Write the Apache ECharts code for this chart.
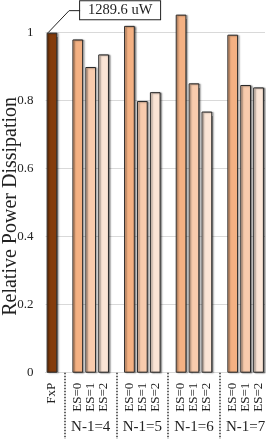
<!DOCTYPE html>
<html>
<head>
<meta charset="utf-8">
<script src="https://cdn.jsdelivr.net/npm/echarts@6/dist/echarts.min.js"></script>
<style>
html,body{margin:0;padding:0;background:#fff;}
#chart{width:266px;height:439px;}
</style>
</head>
<body>
<div id="chart"></div>
<script>
// ---- data ----
var groupLabels = ['N-1=4', 'N-1=5', 'N-1=6', 'N-1=7'];
var esLabels = ['ES=0', 'ES=1', 'ES=2'];
var fxpLabel = 'FxP';
var fxpValue = 1.0;
var fxpAnnotation = '1289.6 uW';
var es0 = [0.980, 1.020, 1.053, 0.994];
var es1 = [0.899, 0.799, 0.851, 0.846];
var es2 = [0.936, 0.825, 0.768, 0.839];
var yTicks = [0, 0.2, 0.4, 0.6, 0.8, 1];

var fxpColor = '#843C0C';
var esColors = ['#F4B183', '#F8CBAD', '#FBE5D6'];
var FONT = 'Liberation Serif';
var BAR_FRAC = 0.83;
var ANN_FONT = 14.5;
var ANN_BOX_W = 80;

// measure annotation text to size its box
var mctx = document.createElement('canvas').getContext('2d');
mctx.font = ANN_FONT + 'px "' + FONT + '"';
var annTextW = mctx.measureText(fxpAnnotation).width;
var annPadH = Math.max(4, (ANN_BOX_W - annTextW) / 2);

// build category slots
var cats = [fxpLabel, ''];
var vals = [{value: fxpValue, itemStyle: {color: fxpColor},
  label: {show: true, formatter: fxpAnnotation}}];
vals.push('-');
var groupCats = ['', ''];
var sepIdx = [1];
var series = [es0, es1, es2];
groupLabels.forEach(function (g, gi) {
  esLabels.forEach(function (e, ei) {
    cats.push(e);
    vals.push({value: series[ei][gi], itemStyle: {color: esColors[ei]}});
    groupCats.push(ei === 1 ? g : '');
  });
  if (gi < groupLabels.length - 1) {
    cats.push('');
    vals.push('-');
    groupCats.push('');
    sepIdx.push(cats.length - 1);
  }
});

var chart = echarts.init(document.getElementById('chart'), null, {renderer: 'canvas'});
chart.setOption({
  animation: false,
  textStyle: {fontFamily: FONT},
  grid: {left: 45.5, right: 1, top: 0, bottom: 66.3, containLabel: false, outerBoundsMode: 'none'},
  xAxis: [{
    type: 'category',
    data: cats,
    axisLine: {show: true, lineStyle: {color: '#d9d9d9'}},
    axisTick: {show: false},
    axisLabel: {interval: 0, rotate: 90, margin: 10, fontSize: 13, color: '#222', fontFamily: FONT}
  }, {
    type: 'category',
    data: groupCats,
    position: 'bottom',
    axisLine: {show: false},
    axisTick: {show: true, alignWithLabel: true, length: 67,
      interval: function (i) { return sepIdx.indexOf(i) >= 0; },
      lineStyle: {type: [1.5, 1.5], color: '#333', width: 1.5}},
    axisLabel: {interval: 0, margin: 47, fontSize: 15, color: '#222', fontFamily: FONT}
  }],
  yAxis: {
    type: 'value',
    min: 0, max: 1.096, interval: 0.2,
    name: 'Relative Power Dissipation',
    nameLocation: 'middle',
    nameGap: 25,
    nameMoveOverlap: false,
    nameTextStyle: {fontSize: 20, color: '#222', fontFamily: FONT, padding: [0, 0, 0, -40]},
    axisLine: {show: false},
    axisTick: {show: false},
    axisLabel: {margin: 12, fontSize: 13, color: '#222', fontFamily: FONT, showMaxLabel: false,
      formatter: function (v) { var r = Math.round(v * 10) / 10; return (yTicks.indexOf(r) >= 0 && Math.abs(v - r) < 1e-6) ? String(r) : ''; }},
    splitLine: {showMaxLine: false, lineStyle: {color: '#d9d9d9', width: 1}}
  },
  series: [{
    type: 'bar',
    xAxisIndex: 0,
    data: vals,
    barWidth: (BAR_FRAC * 100) + '%',
    itemStyle: {borderColor: '#2a2a2a', borderWidth: 1,
      shadowColor: 'rgba(0,0,0,0.45)', shadowOffsetX: 1.5, shadowOffsetY: 0.5, shadowBlur: 1.5},
    label: {show: false, position: 'top', fontSize: ANN_FONT, color: '#222', fontFamily: FONT,
      backgroundColor: '#fff', borderColor: '#222', borderWidth: 1, padding: [2, annPadH, 1, annPadH]}
  }]
});

// callout leader line + annotation box position, anchored via the chart's own scales
var fxpTop = chart.convertToPixel({xAxisIndex: 0, yAxisIndex: 0}, [0, fxpValue]);
var slotW = chart.getModel().getComponent('xAxis', 0).axis.getBandWidth();
var barLeft = fxpTop[0] - slotW * BAR_FRAC / 2;
var p0 = [barLeft + 1.5, fxpTop[1]];
var p1 = [p0[0] + 21, p0[1] - 22];
var p2 = [p1[0] + 11, p1[1]];
var boxW = annTextW + 2 * annPadH;
chart.setOption({
  series: [{
    labelLayout: function (p) {
      if (p.dataIndex === 0) {
        return {x: p2[0] + boxW / 2, y: p2[1] - 0.5, align: 'center', verticalAlign: 'middle'};
      }
      return {};
    }
  }],
  graphic: [{type: 'polyline', silent: true, z: 10,
    shape: {points: [p0, p1, p2]},
    style: {stroke: '#222', lineWidth: 1, fill: null}}]
});
</script>
</body>
</html>
